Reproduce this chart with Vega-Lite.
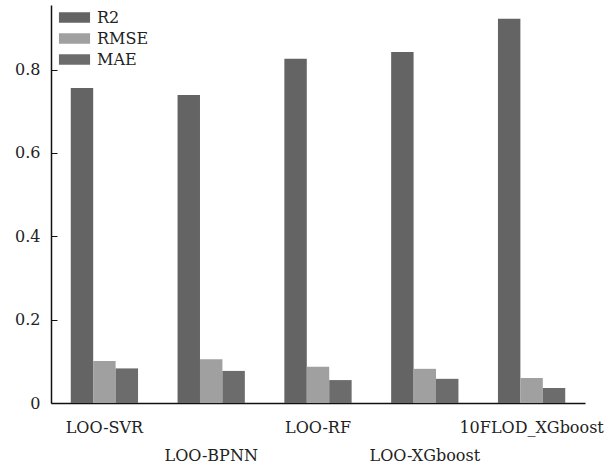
{
  "$schema": "https://vega.github.io/schema/vega-lite/v6.json",
  "width": 534,
  "height": 398,
  "autosize": {"type": "none"},
  "padding": {"left": 51, "top": 5, "right": 29, "bottom": 65},
  "background": "white",
  "config": {
    "view": {"stroke": null},
    "font": "DejaVu Serif"
  },
  "data": {
    "values": [
      {"model": "LOO-SVR", "metric": "R2", "value": 0.756},
      {"model": "LOO-SVR", "metric": "RMSE", "value": 0.101},
      {"model": "LOO-SVR", "metric": "MAE", "value": 0.083},
      {"model": "LOO-BPNN", "metric": "R2", "value": 0.739},
      {"model": "LOO-BPNN", "metric": "RMSE", "value": 0.105},
      {"model": "LOO-BPNN", "metric": "MAE", "value": 0.077},
      {"model": "LOO-RF", "metric": "R2", "value": 0.826},
      {"model": "LOO-RF", "metric": "RMSE", "value": 0.087},
      {"model": "LOO-RF", "metric": "MAE", "value": 0.055},
      {"model": "LOO-XGboost", "metric": "R2", "value": 0.842},
      {"model": "LOO-XGboost", "metric": "RMSE", "value": 0.082},
      {"model": "LOO-XGboost", "metric": "MAE", "value": 0.058},
      {"model": "10FLOD_XGboost", "metric": "R2", "value": 0.922},
      {"model": "10FLOD_XGboost", "metric": "RMSE", "value": 0.060},
      {"model": "10FLOD_XGboost", "metric": "MAE", "value": 0.036}
    ]
  },
  "mark": {"type": "bar"},
  "encoding": {
    "x": {
      "field": "model",
      "type": "nominal",
      "sort": null,
      "scale": {"paddingInner": 0.37, "paddingOuter": 0.185},
      "axis": {
        "title": null,
        "labelAngle": 0,
        "ticks": false,
        "domainColor": "#111",
        "domainWidth": 1.5,
        "labelFont": "DejaVu Serif",
        "labelFontSize": 16,
        "labelColor": "#222",
        "labelPadding": 16,
        "labelLineHeight": 28,
        "labelBaseline": "top",
        "labelExpr": "(datum.value == 'LOO-BPNN' || datum.value == 'LOO-XGboost') ? ['', datum.value] : datum.value"
      }
    },
    "xOffset": {"field": "metric", "type": "nominal", "sort": ["R2", "RMSE", "MAE"], "scale": {"paddingInner": 0, "paddingOuter": 0}},
    "y": {
      "field": "value",
      "type": "quantitative",
      "scale": {"domain": [0, 0.955], "nice": false},
      "axis": {
        "title": null,
        "values": [0, 0.2, 0.4, 0.6, 0.8],
        "labelExpr": "datum.value == 0 ? '0' : format(datum.value, '.1f')",
        "grid": false,
        "tickSize": -6,
        "tickColor": "#111",
        "domainColor": "#111",
        "domainWidth": 1.5,
        "labelFont": "DejaVu Serif",
        "labelFontSize": 16,
        "labelColor": "#222",
        "labelPadding": 17
      }
    },
    "color": {
      "field": "metric",
      "type": "nominal",
      "sort": ["R2", "RMSE", "MAE"],
      "scale": {"domain": ["R2", "RMSE", "MAE"], "range": ["#646464", "#a0a0a0", "#6c6c6c"]},
      "legend": {
        "title": null,
        "orient": "none",
        "legendX": 13,
        "legendY": 2,
        "symbolType": "M-1.5,-0.5L1.5,-0.5L1.5,0.5L-1.5,0.5Z",
        "symbolSize": 430,
        "symbolStrokeWidth": 0,
        "labelFont": "DejaVu Serif",
        "labelFontSize": 16,
        "labelColor": "#222",
        "labelOffset": 12,
        "rowPadding": 2
      }
    }
  }
}
